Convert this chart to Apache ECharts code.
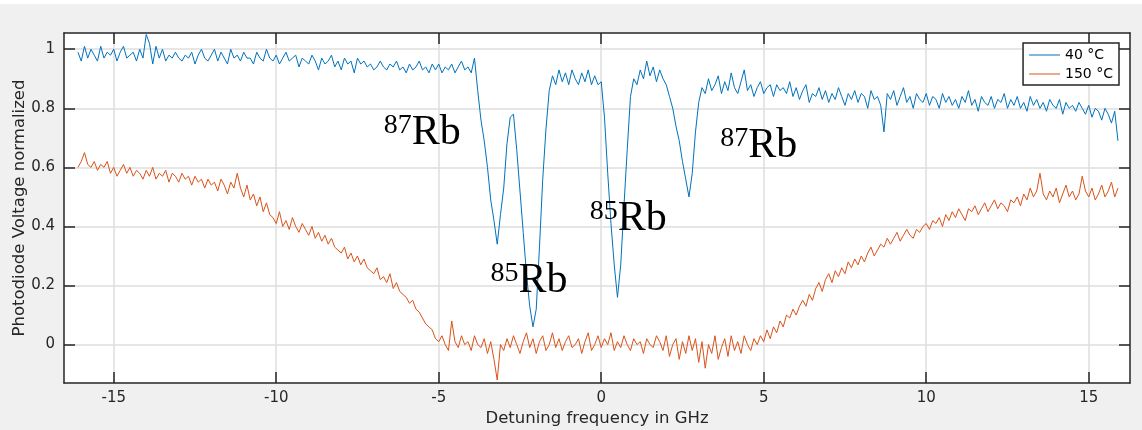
<!DOCTYPE html>
<html><head><meta charset="utf-8">
<script src="https://cdn.jsdelivr.net/npm/echarts@6/dist/echarts.min.js"></script>
<style>html,body{margin:0;padding:0;background:#f0f0f0}#c{width:1142px;height:430px}</style>
</head><body><div id="c"></div><script>
// sampling grid of the detuning axis (GHz)
const FREQ_START = -16.1;
const FREQ_STEP = 0.1;

// photodiode voltage (normalized), 40 °C
const v40 = [
0.99,0.96,1.01,0.97,1.00,0.98,0.96,1.01,0.97,0.99,
0.98,1.00,0.96,0.99,1.01,0.97,0.98,0.99,0.96,1.00,
0.97,1.05,1.02,0.95,1.01,0.97,1.00,0.96,0.98,0.97,
0.99,0.97,0.96,0.98,0.97,0.99,0.95,0.98,1.00,0.97,
0.96,0.98,1.00,0.96,0.99,0.97,0.95,1.00,0.97,0.98,
0.96,0.99,0.97,0.97,0.95,0.99,0.97,0.96,1.00,0.97,
0.96,0.98,0.95,0.97,0.99,0.96,0.97,0.98,0.94,0.97,
0.96,0.95,0.98,0.96,0.93,0.97,0.95,0.96,0.98,0.94,
0.96,0.93,0.97,0.95,0.96,0.92,0.97,0.95,0.96,0.94,
0.95,0.93,0.94,0.96,0.94,0.93,0.95,0.94,0.96,0.93,
0.94,0.92,0.95,0.93,0.94,0.96,0.93,0.94,0.92,0.95,
0.93,0.95,0.92,0.94,0.93,0.95,0.92,0.94,0.96,0.93,
0.94,0.92,0.97,0.86,0.76,0.69,0.60,0.49,0.42,0.34,
0.44,0.53,0.68,0.77,0.78,0.66,0.52,0.38,0.24,0.13,
0.06,0.12,0.33,0.56,0.73,0.86,0.91,0.88,0.93,0.89,
0.92,0.88,0.93,0.90,0.88,0.92,0.89,0.93,0.88,0.91,
0.88,0.89,0.77,0.58,0.41,0.27,0.16,0.27,0.47,0.66,
0.84,0.90,0.88,0.93,0.90,0.96,0.91,0.94,0.89,0.93,
0.90,0.88,0.84,0.80,0.74,0.69,0.62,0.56,0.50,0.58,
0.72,0.82,0.87,0.85,0.90,0.86,0.88,0.91,0.85,0.89,
0.86,0.92,0.87,0.85,0.89,0.93,0.86,0.88,0.84,0.87,
0.89,0.85,0.87,0.88,0.84,0.88,0.86,0.87,0.85,0.89,
0.84,0.87,0.83,0.86,0.88,0.82,0.85,0.84,0.87,0.83,
0.86,0.82,0.85,0.83,0.87,0.84,0.81,0.85,0.83,0.86,
0.82,0.85,0.84,0.80,0.86,0.83,0.84,0.81,0.72,0.85,
0.83,0.86,0.81,0.84,0.87,0.82,0.84,0.80,0.85,0.83,
0.82,0.85,0.81,0.84,0.83,0.80,0.85,0.82,0.84,0.81,
0.83,0.80,0.84,0.82,0.86,0.81,0.83,0.79,0.84,0.82,
0.81,0.84,0.80,0.83,0.82,0.85,0.80,0.83,0.81,0.84,
0.80,0.82,0.79,0.84,0.81,0.83,0.80,0.82,0.79,0.83,
0.81,0.80,0.83,0.78,0.82,0.80,0.81,0.79,0.82,0.80,
0.78,0.81,0.77,0.80,0.79,0.76,0.80,0.78,0.75,0.79,
0.69
];

// photodiode voltage (normalized), 150 °C
const v150 = [
0.60,0.62,0.65,0.61,0.60,0.62,0.59,0.61,0.60,0.62,
0.58,0.60,0.57,0.59,0.61,0.58,0.60,0.57,0.59,0.58,
0.56,0.59,0.57,0.60,0.56,0.58,0.57,0.59,0.55,0.58,
0.57,0.55,0.58,0.56,0.57,0.54,0.57,0.55,0.56,0.53,
0.56,0.54,0.55,0.52,0.56,0.54,0.51,0.55,0.53,0.58,
0.53,0.50,0.54,0.49,0.51,0.47,0.50,0.45,0.48,0.44,
0.43,0.41,0.45,0.40,0.42,0.39,0.43,0.40,0.38,0.41,
0.39,0.37,0.40,0.36,0.38,0.35,0.37,0.34,0.36,0.33,
0.32,0.31,0.33,0.29,0.31,0.28,0.30,0.27,0.29,0.26,
0.25,0.24,0.26,0.22,0.23,0.21,0.24,0.19,0.21,0.18,
0.17,0.16,0.14,0.15,0.12,0.11,0.09,0.07,0.06,0.05,
0.02,0.01,0.03,0.00,-0.02,0.08,0.01,-0.01,0.03,0.00,
0.01,-0.02,0.03,0.00,-0.01,0.02,-0.03,0.01,-0.05,-0.12,
0.00,-0.02,0.02,-0.01,0.03,0.00,-0.03,0.01,0.04,-0.01,
0.02,-0.03,0.01,0.03,-0.02,0.00,0.04,-0.01,0.02,-0.02,
0.01,0.03,-0.01,0.00,0.02,-0.03,0.01,0.04,-0.02,0.00,
0.03,-0.01,0.02,0.00,0.04,-0.02,0.01,-0.01,0.03,0.00,
-0.02,0.02,0.00,0.01,-0.03,0.02,0.00,-0.01,0.03,0.01,
-0.02,0.03,-0.04,0.00,0.02,-0.05,0.01,-0.03,0.03,-0.02,
0.02,-0.06,0.01,-0.08,0.00,-0.03,0.03,-0.05,-0.01,0.02,
-0.04,0.03,-0.02,0.01,-0.03,0.03,0.00,-0.02,0.02,0.00,
0.03,0.01,0.05,0.02,0.06,0.04,0.08,0.06,0.10,0.09,
0.12,0.10,0.13,0.15,0.13,0.17,0.15,0.19,0.21,0.18,
0.22,0.24,0.21,0.25,0.23,0.26,0.24,0.28,0.26,0.29,
0.27,0.30,0.28,0.31,0.33,0.30,0.32,0.34,0.33,0.36,
0.34,0.36,0.38,0.35,0.37,0.39,0.37,0.36,0.39,0.38,
0.40,0.41,0.39,0.42,0.41,0.43,0.40,0.44,0.42,0.45,
0.43,0.46,0.44,0.42,0.46,0.45,0.47,0.44,0.46,0.48,
0.45,0.47,0.49,0.46,0.48,0.47,0.45,0.49,0.48,0.50,
0.47,0.51,0.49,0.53,0.50,0.52,0.58,0.51,0.49,0.52,
0.50,0.53,0.48,0.51,0.54,0.50,0.52,0.49,0.51,0.57,
0.52,0.50,0.53,0.49,0.51,0.54,0.50,0.52,0.55,0.50,
0.53
];

const seriesNames = ['40 °C', '150 °C'];
const xTicks = [-15, -10, -5, 0, 5, 10, 15];
const yTicks = [0, 0.2, 0.4, 0.6, 0.8, 1];
const X_RANGE = [-16.53, 16.27];
const Y_RANGE = [-0.13, 1.055];
// isotope labels: left edge and baseline, in data units
const annotations = [
  {iso: '87', x: -6.69, y: 0.670},
  {iso: '85', x: -3.41, y: 0.168},
  {iso: '85', x: -0.35, y: 0.379},
  {iso: '87', x: 3.66, y: 0.626}
];

const pair = arr => arr.map((v, i) => [+(FREQ_START + i * FREQ_STEP).toFixed(2), v]);

const AX = '#262626';
const FONT = 'DejaVu Sans';
const chart = echarts.init(document.getElementById('c'), null, {renderer: 'canvas'});

function xAx(pos, main) {
  return {
    type: 'value', position: pos, min: X_RANGE[0], max: X_RANGE[1],
    axisLine: {show: true, onZero: false, lineStyle: {color: AX, width: 1.5}},
    axisTick: {show: true, inside: true, length: 11, customValues: xTicks, lineStyle: {color: AX, width: 1.5}},
    axisLabel: {show: true, customValues: xTicks, color: main ? AX : 'rgba(0,0,0,0)', fontSize: 15, fontFamily: FONT, margin: 8},
    splitLine: {show: main, lineStyle: {color: '#dedede', width: 1.5}},
    name: main ? 'Detuning frequency in GHz' : '', nameLocation: 'middle', nameGap: 27, nameMoveOverlap: false,
    nameTextStyle: {color: AX, fontSize: 16.5, fontFamily: FONT}
  };
}
function yAx(pos, main) {
  return {
    type: 'value', position: pos, min: Y_RANGE[0], max: Y_RANGE[1],
    axisLine: {show: true, onZero: false, lineStyle: {color: AX, width: 1.5}},
    axisTick: {show: true, inside: true, length: 11, customValues: yTicks, lineStyle: {color: AX, width: 1.5}},
    axisLabel: {show: true, customValues: yTicks, color: main ? AX : 'rgba(0,0,0,0)', fontSize: 15, fontFamily: FONT, margin: 9},
    splitLine: {show: main, lineStyle: {color: '#dedede', width: 1.5}},
    name: main ? 'Photodiode Voltage normalized' : '', nameLocation: 'middle', nameGap: 36, nameMoveOverlap: false,
    nameTextStyle: {color: AX, fontSize: 16.5, fontFamily: FONT}
  };
}

chart.setOption({
  backgroundColor: '#f0f0f0',
  animation: false,
  grid: {left: 64, right: 12, top: 33, bottom: 47, show: true, backgroundColor: '#fff', borderWidth: 0,
         containLabel: false, outerBoundsMode: 'none'},
  xAxis: [xAx('bottom', true), xAx('top', false)],
  yAxis: [yAx('left', true), yAx('right', false)],
  legend: {
    orient: 'vertical', right: 23, top: 43, icon: 'rect', itemWidth: 31, itemHeight: 1, itemGap: 5,
    padding: [5, 6, 4, 6], borderColor: AX, borderWidth: 1.5, backgroundColor: '#fff',
    textStyle: {color: '#000', fontSize: 14, fontFamily: FONT}, data: seriesNames
  },
  series: [
    {name: seriesNames[0], type: 'line', data: pair(v40), symbol: 'none', color: '#0072BD',
     lineStyle: {width: 1}, xAxisIndex: 0, yAxisIndex: 0},
    {name: seriesNames[1], type: 'line', data: pair(v150), symbol: 'none', color: '#D95319',
     lineStyle: {width: 1}, xAxisIndex: 0, yAxisIndex: 0},
    {type: 'line', data: [], xAxisIndex: 1, yAxisIndex: 1, silent: true}
  ]
});

const g = [{type: 'rect', shape: {x: 0, y: 0, width: 1142, height: 4}, style: {fill: '#fff'}, z: 0}];
annotations.forEach(a => {
  const p = chart.convertToPixel({xAxisIndex: 0, yAxisIndex: 0}, [a.x, a.y]);
  g.push({type: 'text', x: p[0], y: p[1] - 21, z: 100,
    style: {text: a.iso, fontSize: 28, fontFamily: 'Liberation Serif', fill: '#000', align: 'left', verticalAlign: 'middle'}});
  g.push({type: 'text', x: p[0] + 28, y: p[1] - 14, z: 100,
    style: {text: 'Rb', fontSize: 42, fontFamily: 'Liberation Serif', fill: '#000', align: 'left', verticalAlign: 'middle'}});
});
chart.setOption({graphic: g});
</script></body></html>
